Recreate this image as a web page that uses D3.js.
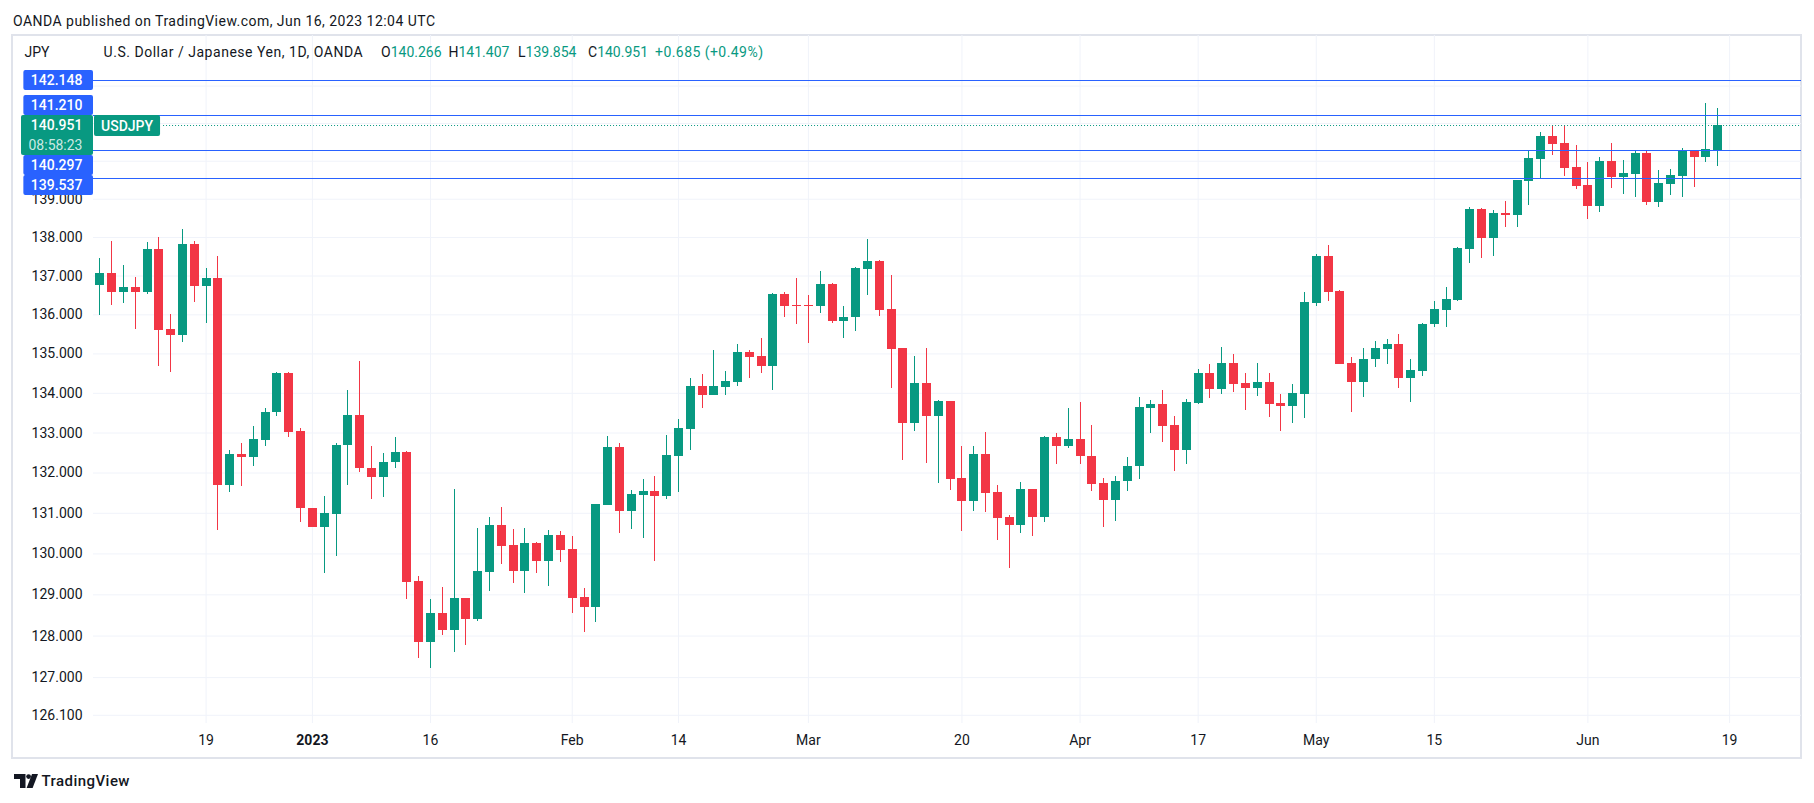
<!DOCTYPE html>
<html><head><meta charset="utf-8">
<script src="https://cdn.jsdelivr.net/npm/d3@7"></script>
<style>
html,body{margin:0;padding:0;background:#fff;}
svg{display:block;font-family:Roboto,"Liberation Sans",sans-serif;}
</style></head><body>
<svg id="chart" width="1814" height="803"></svg>
<script>
// ---------------- DATA ----------------
const dates = ["2022-12-06","2022-12-07","2022-12-08","2022-12-09","2022-12-12","2022-12-13","2022-12-14","2022-12-15","2022-12-16","2022-12-19","2022-12-20","2022-12-21","2022-12-22","2022-12-23","2022-12-27","2022-12-28","2022-12-29","2022-12-30","2023-01-02","2023-01-03","2023-01-04","2023-01-05","2023-01-06","2023-01-09","2023-01-10","2023-01-11","2023-01-12","2023-01-13","2023-01-16","2023-01-17","2023-01-18","2023-01-19","2023-01-20","2023-01-23","2023-01-24","2023-01-25","2023-01-26","2023-01-27","2023-01-30","2023-01-31","2023-02-01","2023-02-02","2023-02-03","2023-02-06","2023-02-07","2023-02-08","2023-02-09","2023-02-10","2023-02-13","2023-02-14","2023-02-15","2023-02-16","2023-02-17","2023-02-20","2023-02-21","2023-02-22","2023-02-23","2023-02-24","2023-02-27","2023-02-28","2023-03-01","2023-03-02","2023-03-03","2023-03-06","2023-03-07","2023-03-08","2023-03-09","2023-03-10","2023-03-13","2023-03-14","2023-03-15","2023-03-16","2023-03-17","2023-03-20","2023-03-21","2023-03-22","2023-03-23","2023-03-24","2023-03-27","2023-03-28","2023-03-29","2023-03-30","2023-03-31","2023-04-03","2023-04-04","2023-04-05","2023-04-06","2023-04-07","2023-04-10","2023-04-11","2023-04-12","2023-04-13","2023-04-14","2023-04-17","2023-04-18","2023-04-19","2023-04-20","2023-04-21","2023-04-24","2023-04-25","2023-04-26","2023-04-27","2023-04-28","2023-05-01","2023-05-02","2023-05-03","2023-05-04","2023-05-05","2023-05-08","2023-05-09","2023-05-10","2023-05-11","2023-05-12","2023-05-15","2023-05-16","2023-05-17","2023-05-18","2023-05-19","2023-05-22","2023-05-23","2023-05-24","2023-05-25","2023-05-26","2023-05-29","2023-05-30","2023-05-31","2023-06-01","2023-06-02","2023-06-05","2023-06-06","2023-06-07","2023-06-08","2023-06-09","2023-06-12","2023-06-13","2023-06-14","2023-06-15","2023-06-16"];

const openP = [136.76,137.07,136.58,136.70,136.58,137.69,135.62,135.47,137.82,136.74,136.94,131.70,132.46,132.38,132.82,133.51,134.51,133.04,131.12,130.66,130.98,132.68,133.44,132.12,131.88,132.25,132.50,129.33,127.85,128.55,128.14,128.91,128.41,129.55,130.70,130.20,129.58,130.25,129.82,130.45,130.11,128.94,128.70,131.20,132.64,131.05,131.44,131.54,131.42,132.41,133.10,134.17,133.95,134.15,134.28,135.03,134.93,134.69,136.52,136.23,136.23,136.22,136.77,135.83,135.92,137.17,137.37,136.14,135.14,133.25,134.25,133.42,133.79,131.86,131.30,132.46,131.51,130.90,130.71,131.59,130.90,132.89,132.67,132.84,132.41,131.74,131.32,131.78,132.15,133.62,133.71,133.19,132.57,133.75,134.50,134.10,134.75,134.25,134.13,134.27,133.74,133.67,133.98,136.30,137.51,136.60,134.76,134.28,134.85,135.12,135.24,134.38,134.56,135.74,136.12,136.38,137.70,138.73,137.98,138.62,138.58,139.47,140.05,140.65,140.47,139.83,139.36,138.82,139.99,139.56,139.66,140.20,138.92,139.39,139.60,140.26,140.11,140.266];
const highP = [137.46,137.89,137.27,136.95,137.87,138.00,136.01,138.21,137.89,137.20,137.50,132.56,132.74,133.16,133.62,134.52,134.52,133.12,131.13,131.41,132.73,134.07,134.81,132.66,132.49,132.89,132.53,129.45,128.89,129.18,131.59,128.91,130.62,130.90,131.14,130.60,130.62,130.27,130.57,130.55,130.43,129.16,131.22,132.91,132.74,131.56,131.83,131.91,132.94,133.33,134.37,134.47,135.10,134.55,135.24,135.09,135.39,136.55,136.57,136.94,136.50,137.12,136.80,136.21,137.23,137.95,137.40,137.01,135.14,134.93,135.14,133.83,133.79,132.66,132.66,133.01,131.69,130.95,131.76,131.59,132.91,132.99,133.62,133.76,133.19,131.86,131.91,132.39,133.89,133.81,134.07,133.41,133.84,134.60,134.73,135.16,134.98,134.50,134.75,134.50,133.97,134.22,136.57,137.56,137.79,136.62,134.92,135.14,135.32,135.37,135.50,134.86,135.78,136.34,136.70,137.74,138.79,138.76,138.70,138.94,139.49,140.26,140.76,140.95,140.96,140.42,139.96,140.10,140.47,140.02,140.28,140.25,139.75,139.78,140.34,140.28,141.53,141.407];
const lowP = [135.99,136.25,136.28,135.63,136.53,134.68,134.53,135.28,136.31,135.79,130.58,131.52,131.67,132.16,132.67,133.41,132.89,130.78,130.64,129.53,129.94,131.70,132.01,131.33,131.39,132.10,128.89,127.47,127.22,128.02,127.60,127.78,128.36,129.07,129.75,129.28,129.04,129.53,129.21,129.78,128.55,128.09,128.34,131.20,130.51,130.61,130.37,129.82,131.35,131.52,132.57,133.62,133.95,133.95,134.18,134.38,134.50,134.07,135.94,135.76,135.27,136.04,135.79,135.40,135.58,136.50,135.97,134.12,132.32,133.05,132.24,131.74,131.57,130.56,131.05,131.03,130.34,129.65,130.51,130.43,130.77,132.21,132.62,132.21,131.54,130.65,130.80,131.55,131.85,133.00,132.77,132.05,132.20,133.72,133.87,133.97,134.03,133.57,133.92,133.40,133.05,133.25,133.37,136.22,136.35,134.74,133.52,133.90,134.66,134.74,134.12,133.77,134.43,135.68,135.68,136.33,137.33,137.46,137.51,138.26,138.26,138.84,139.53,140.16,139.61,139.26,138.48,138.64,139.29,139.13,139.05,138.84,138.79,139.10,139.05,139.31,139.97,139.854];
const closeP = [137.07,136.58,136.70,136.58,137.69,135.61,135.47,137.82,136.74,136.94,131.70,132.46,132.38,132.84,133.51,134.51,133.01,131.11,130.66,130.99,132.69,133.44,132.10,131.88,132.26,132.50,129.31,127.85,128.55,128.14,128.91,128.41,129.57,130.70,130.19,129.58,130.25,129.82,130.45,130.09,128.92,128.70,131.22,132.64,131.05,131.46,131.54,131.42,132.43,133.11,134.17,133.95,134.17,134.30,135.03,134.92,134.69,136.52,136.22,136.22,136.22,136.77,135.83,135.93,137.19,137.37,136.12,135.12,133.25,134.25,133.42,133.79,131.85,131.30,132.46,131.50,130.88,130.71,131.59,130.90,132.89,132.67,132.84,132.40,131.72,131.32,131.79,132.16,133.64,133.71,133.17,132.57,133.77,134.50,134.10,134.75,134.23,134.13,134.27,133.72,133.67,133.99,136.32,137.51,136.58,134.74,134.28,134.86,135.14,135.24,134.38,134.58,135.75,136.14,136.39,137.71,138.73,137.98,138.62,138.58,139.49,140.07,140.65,140.45,139.82,139.34,138.82,139.99,139.56,139.67,140.20,138.92,139.41,139.62,140.26,140.11,140.30,140.951];

const priceTicks = [126.1,127,128,129,130,131,132,133,134,135,136,137,138,139,140,141,142];
const timeTickDates = ["2022-12-19","2023-01-02","2023-01-16","2023-02-01","2023-02-14","2023-03-01","2023-03-20","2023-04-03","2023-04-17","2023-05-01","2023-05-15","2023-06-01","2023-06-19"];
const timeTickLabels = ["19","2023","16","Feb","14","Mar","20","Apr","17","May","15","Jun","19"];
const boldTickLabels = ["2023"];
const levelValues = [142.148, 141.210, 140.297, 139.537];
const lastPrice = 140.951;
const countdownText = "08:58:23";
const symbolName = "USDJPY";
const currencyLabel = "JPY";
const headerText = "OANDA published on TradingView.com, Jun 16, 2023 12:04 UTC";
const titleText = "U.S. Dollar / Japanese Yen, 1D, OANDA";
const ohlcKeys = ["O","H","L","C"];
const ohlcValues = ["140.266","141.407","139.854","140.951"];
const changeText = "+0.685 (+0.49%)";

// ---------------- LAYOUT ----------------
const W = 1814, H = 803;
const frame = {left: 12, top: 35, right: 1801, bottom: 758};
const plot = {left: 93, top: 35, right: 1801, bottom: 723};
const GREEN = "#089981", RED = "#f23645", BLUE = "#2962ff", TEXT = "#131722", GRID = "#f0f3fa";

const svg = d3.select("#chart");
svg.append("rect").attr("width", W).attr("height", H).attr("fill", "#fff");

const x = d3.scaleLinear().domain([0, dates.length - 1]).range([99.3, 1717.3]);
const y = d3.scaleLog().domain([126, 143]).range([719.0, 48.4]);

function dateIndex(d) {
  const i = dates.indexOf(d);
  if (i >= 0) return i;
  let t = new Date(dates[dates.length - 1] + "T00:00:00Z");
  const target = new Date(d + "T00:00:00Z");
  let n = dates.length - 1;
  while (t < target) {
    t.setUTCDate(t.getUTCDate() + 1);
    const wd = t.getUTCDay();
    if (wd !== 0 && wd !== 6) n++;
  }
  return n;
}
const timeTickIdx = timeTickDates.map(dateIndex);

// ---- price label boxes layout (stacked so they do not overlap) ----
const rowH = 20;
const yLast = Math.round(y(lastPrice));
const greenTop = yLast - 10, greenBot = greenTop + 2 * rowH;
const boxes = levelValues.map(v => ({v, top: Math.round(y(v)) - 10}));
const above = boxes.filter(b => b.top + rowH / 2 < yLast).sort((a, b) => b.top - a.top);
const below = boxes.filter(b => b.top + rowH / 2 >= yLast).sort((a, b) => a.top - b.top);
let lim = greenTop;
above.forEach(b => { if (b.top + rowH > lim) b.top = lim - rowH; lim = b.top; });
lim = greenBot;
below.forEach(b => { if (b.top < lim) b.top = lim; lim = b.top + rowH; });
const covered = [[greenTop, greenBot]].concat(boxes.map(b => [b.top, b.top + rowH]));
const isCovered = v => covered.some(([a, b]) => y(v) > a && y(v) < b);

// frame
svg.append("rect")
  .attr("x", frame.left).attr("y", frame.top)
  .attr("width", frame.right - frame.left).attr("height", frame.bottom - frame.top)
  .attr("fill", "none").attr("stroke", "#e0e3eb").attr("stroke-width", 2);

// vertical gridlines
const vGrid = svg.append("g").attr("transform", `translate(0,${plot.bottom})`)
  .call(d3.axisBottom(x).tickValues(timeTickIdx).tickSize(-(plot.bottom - plot.top)).tickFormat(""));
vGrid.select(".domain").remove();
vGrid.selectAll("line").attr("stroke", GRID);

// horizontal gridlines
const hGrid = svg.append("g").attr("transform", `translate(${plot.left},0)`)
  .call(d3.axisLeft(y).tickValues(priceTicks).tickSize(-(plot.right - plot.left)).tickFormat(""));
hGrid.select(".domain").remove();
hGrid.selectAll("line").attr("stroke", GRID);

// price axis labels (those hidden under the price boxes are not drawn)
const yAxis = svg.append("g").attr("transform", `translate(${plot.left},0)`)
  .call(d3.axisLeft(y).tickValues(priceTicks.filter(v => !isCovered(v))).tickSize(0).tickPadding(10.5).tickFormat(d3.format(".3f")));
yAxis.select(".domain").remove();
yAxis.selectAll("text").attr("fill", TEXT).attr("font-size", 14).attr("font-family", "Roboto");

// time axis labels
const xAxis = svg.append("g").attr("transform", `translate(0,${plot.bottom})`)
  .call(d3.axisBottom(x).tickValues(timeTickIdx).tickSize(0).tickPadding(12)
    .tickFormat((d, i) => timeTickLabels[i]));
xAxis.select(".domain").remove();
xAxis.selectAll("text").attr("fill", TEXT).attr("font-size", 14).attr("font-family", "Roboto")
  .attr("font-weight", (d, i) => boldTickLabels.includes(timeTickLabels[i]) ? "bold" : "normal");

// candles
const candles = svg.append("g");
dates.forEach((d, i) => {
  const o = openP[i], h = highP[i], l = lowP[i], c = closeP[i];
  const col = c >= o ? GREEN : RED;
  const cx = Math.round(x(i));
  const yh = Math.round(y(h)), yl = Math.round(y(l));
  candles.append("rect").attr("x", cx).attr("y", yh).attr("width", 1)
    .attr("height", Math.max(1, yl - yh)).attr("fill", col);
  const yt = Math.round(y(Math.max(o, c))), yb = Math.round(y(Math.min(o, c)));
  candles.append("rect").attr("x", cx - 4).attr("y", yt).attr("width", 9)
    .attr("height", Math.max(1, yb - yt)).attr("fill", col);
});

// horizontal level lines
levelValues.forEach(v => {
  const yy = Math.round(y(v)) + 0.5;
  svg.append("line").attr("x1", plot.left).attr("x2", plot.right)
    .attr("y1", yy).attr("y2", yy).attr("stroke", BLUE).attr("stroke-width", 1);
});

// symbol label + dotted last-price line
const symG = svg.append("g");
const symText = symG.append("text").attr("x", 0).attr("y", yLast + 5.5)
  .attr("fill", "#fff").attr("font-size", 14).attr("font-weight", 500).text(symbolName);
const symW = symText.node().getComputedTextLength();
symG.insert("rect", "text").attr("x", plot.left + 1).attr("y", yLast - 10)
  .attr("width", symW + 14).attr("height", 21).attr("rx", 2).attr("fill", GREEN);
symText.attr("x", plot.left + 8);
svg.append("line").attr("x1", plot.left + symW + 18).attr("x2", plot.right)
  .attr("y1", yLast + 0.5).attr("y2", yLast + 0.5)
  .attr("stroke", GREEN).attr("stroke-width", 1).attr("stroke-dasharray", "1,2");

// price label boxes
const textRight = 82.5;
boxes.forEach(b => {
  const g = svg.append("g");
  const t = g.append("text").attr("x", textRight).attr("y", b.top + rowH / 2 + 5)
    .attr("text-anchor", "end").attr("fill", "#fff").attr("font-size", 14).attr("font-weight", 500)
    .text(d3.format(".3f")(b.v));
  const w = t.node().getComputedTextLength();
  g.insert("rect", "text").attr("x", textRight - w - 7.5).attr("y", b.top)
    .attr("width", plot.left - (textRight - w - 7.5)).attr("height", rowH).attr("rx", 2).attr("fill", BLUE);
});
{
  const g = svg.append("g");
  const t1 = g.append("text").attr("x", textRight).attr("y", greenTop + rowH / 2 + 5)
    .attr("text-anchor", "end").attr("fill", "#fff").attr("font-size", 14).attr("font-weight", 500)
    .text(d3.format(".3f")(lastPrice));
  const t2 = g.append("text").attr("x", textRight).attr("y", greenTop + rowH * 1.5 + 5)
    .attr("text-anchor", "end").attr("fill", "#fff").attr("fill-opacity", 0.8).attr("font-size", 14)
    .text(countdownText);
  const w = Math.max(t1.node().getComputedTextLength(), t2.node().getComputedTextLength());
  g.insert("rect", "text").attr("x", textRight - w - 7.5).attr("y", greenTop)
    .attr("width", plot.left - (textRight - w - 7.5)).attr("height", 2 * rowH).attr("rx", 2).attr("fill", GREEN);
}

// header
svg.append("text").attr("x", 13).attr("y", 26).attr("fill", TEXT).attr("font-size", 14)
  .attr("textLength", 422).attr("lengthAdjust", "spacing").text(headerText);

// legend row
svg.append("text").attr("x", 24.5).attr("y", 57).attr("fill", TEXT).attr("font-size", 14).text(currencyLabel);
svg.append("text").attr("x", 103.6).attr("y", 57).attr("fill", TEXT).attr("font-size", 14)
  .attr("textLength", 259).attr("lengthAdjust", "spacing").text(titleText);
const ohlcX = [381, 448.5, 518, 588];
ohlcKeys.forEach((k, i) => {
  const t = svg.append("text").attr("x", ohlcX[i]).attr("y", 57).attr("font-size", 14);
  t.append("tspan").attr("fill", TEXT).text(k);
  t.append("tspan").attr("fill", GREEN).text(ohlcValues[i]);
});
svg.append("text").attr("x", 655).attr("y", 57).attr("fill", GREEN).attr("font-size", 14)
  .attr("textLength", 108).attr("lengthAdjust", "spacing").text(changeText);

// TradingView logo
const logo = svg.append("g").attr("fill", TEXT);
logo.append("path").attr("d", "M14,774 H25.5 V788 H20 V779 H14 Z");
logo.append("circle").attr("cx", 28.6).attr("cy", 776.6).attr("r", 2.4);
logo.append("path").attr("d", "M32,774 H38 L32.6,788 H26.6 Z");
svg.append("text").attr("x", 41.5).attr("y", 786).attr("fill", TEXT).attr("font-size", 15).attr("font-weight", 500)
  .attr("textLength", 88).attr("lengthAdjust", "spacing").text("TradingView");
</script>
</body></html>
